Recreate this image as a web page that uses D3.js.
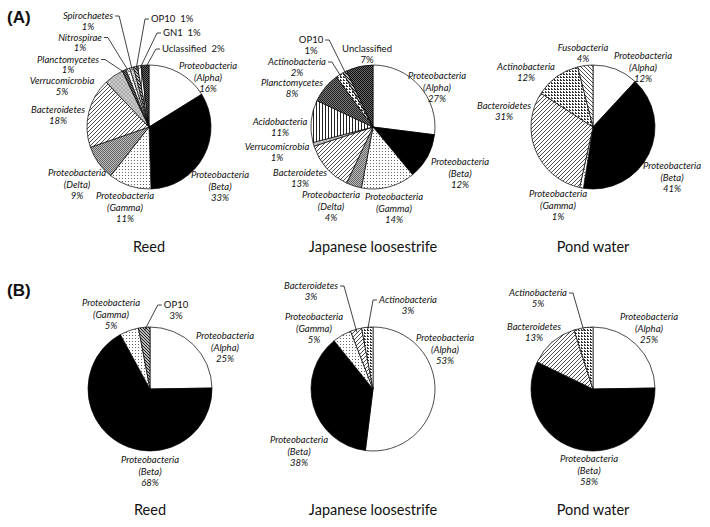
<!DOCTYPE html>
<html>
<head>
<meta charset="utf-8">
<script src="https://cdn.jsdelivr.net/npm/d3@7"></script>
<style>
  body { margin: 0; background: #fff; }
  svg text { font-family: Lato, "Open Sans", sans-serif; fill: #111; }
</style>
</head>
<body>
<div id="chart"></div>
<script>
// ---- data (percent of clones) ----
const panelA_reed_taxa = ['Proteobacteria (Alpha)', 'Proteobacteria (Beta)', 'Proteobacteria (Gamma)', 'Proteobacteria (Delta)',
  'Bacteroidetes', 'Verrucomicrobia', 'Planctomycetes', 'Nitrospirae', 'Spirochaetes', 'OP10', 'GN1', 'Uclassified']
const panelA_reed_pct = [16, 33, 11, 9, 18, 5, 1, 1, 1, 1, 1, 2]

const panelA_loose_taxa = ['Proteobacteria (Alpha)', 'Proteobacteria (Beta)', 'Proteobacteria (Gamma)', 'Proteobacteria (Delta)',
  'Bacteroidetes', 'Verrucomicrobia', 'Acidobacteria', 'Planctomycetes', 'Actinobacteria', 'OP10', 'Unclassified']
const panelA_loose_pct = [27, 12, 14, 4, 13, 1, 11, 8, 2, 1, 7]

const panelA_pond_taxa = ['Proteobacteria (Alpha)', 'Proteobacteria (Beta)', 'Proteobacteria (Gamma)',
  'Bacteroidetes', 'Actinobacteria', 'Fusobacteria']
const panelA_pond_pct = [12, 41, 1, 31, 12, 4]

const panelB_reed_taxa = ['Proteobacteria (Alpha)', 'Proteobacteria (Beta)', 'Proteobacteria (Gamma)', 'OP10']
const panelB_reed_pct = [25, 68, 5, 3]

const panelB_loose_taxa = ['Proteobacteria (Alpha)', 'Proteobacteria (Beta)', 'Proteobacteria (Gamma)', 'Bacteroidetes', 'Actinobacteria']
const panelB_loose_pct = [53, 38, 5, 3, 3]

const panelB_pond_taxa = ['Proteobacteria (Alpha)', 'Proteobacteria (Beta)', 'Bacteroidetes', 'Actinobacteria']
const panelB_pond_pct = [25, 58, 13, 5]

const sampleNames = ['Reed', 'Japanese loosestrife', 'Pond water']
const panelNames = ['(A)', '(B)']

// ---- label layout: [dx, dy, anchor, leader side] relative to pie centre ----
const layout = {
  aReed: [[59, -61], [71, 48], [-24, 69], [-72, 46], [-91, -17], [-87, -46],
    [-81, -67.5, 'middle', 'r'], [-69, -89.5, 'middle', 'r'], [-61, -111, 'middle', 'r'],
    [2, -108, 'start', 'l'], [14, -94, 'start', 'l'], [13, -78, 'start', 'l']],
  aLoose: [[64, -51], [87, 35], [21, 70], [-42, 68], [-73, 46], [-96, 20], [-93, -5], [-81, -44],
    [-76, -65, 'middle', 'r'], [-62, -87, 'middle', 'r'], [-6, -78]],
  aPond: [[50, -71], [79, 39], [-35, 67], [-89, -21], [-67, -60], [-10, -79]],
  bReed: [[75, -53], [0, 71], [-39, -86], [26, -84, 'middle', 'l']],
  bLoose: [[72, -51], [-74, 51], [-59, -72], [-62, -103, 'middle', 'r'], [35, -89, 'middle', 'l']],
  bPond: [[56, -72], [-4, 70], [-59, -62], [-55, -96, 'middle', 'r']]
}

const plainText = new Set(['OP10', 'GN1', 'Uclassified', 'Unclassified'])

const width = 710
const height = 527
const radius = 62
const lineH = 11.3
const lineH2 = 10.4 // two-line labels sit closer

const svg = d3.select('#chart').append('svg')
  .attr('width', width)
  .attr('height', height)

// ---- fill patterns ----
const defs = svg.append('defs')
function pat (id, size, build, bg) {
  let p = defs.append('pattern')
    .attr('id', id)
    .attr('patternUnits', 'userSpaceOnUse')
    .attr('width', size)
    .attr('height', size)
  p.append('rect').attr('width', size).attr('height', size).attr('fill', bg || '#fff')
  build(p)
}
function dots (p, pts, s, c) {
  pts.forEach(([x, y]) => p.append('rect').attr('x', x).attr('y', y).attr('width', s).attr('height', s).attr('fill', c))
}
pat('p-gamma', 3, (p) => dots(p, [[0, 0]], 1, '#666'))
pat('p-delta', 2, (p) => dots(p, [[0, 0], [1, 1]], 1, '#666'), '#bbb')
pat('p-bact', 4, (p) => p.append('path').attr('d', 'M-1,5L5,-1M-1,1L1,-1M3,5L5,3').attr('stroke', '#222').attr('stroke-width', 0.8))
pat('p-verruco', 4, (p) => dots(p, [[0, 0], [2, 2]], 2, '#aaa'), '#ccc')
pat('p-acido', 3, (p) => p.append('rect').attr('x', 0).attr('width', 1).attr('height', 3).attr('fill', '#222'))
pat('p-plancto', 2, (p) => dots(p, [[0, 0], [1, 1]], 1, '#222'), '#777')
pat('p-actino', 3, (p) => dots(p, [[0, 0], [1, 1], [0, 1]], 1, '#333'))
pat('p-uncl', 2, (p) => dots(p, [[0, 0], [1, 1]], 1, '#111'), '#666')
pat('p-op10', 3, (p) => p.append('path').attr('d', 'M-1,-1L4,4M-1,2L1,4M2,-1L4,1').attr('stroke', '#111').attr('stroke-width', 1.1))
pat('p-fuso', 4, (p) => p.append('path').attr('d', 'M-1,-1L5,5M-1,3L1,5M3,-1L5,1').attr('stroke', '#222').attr('stroke-width', 0.8))
pat('p-nitro', 3, (p) => dots(p, [[1, 1]], 1, '#888'))
pat('p-spiro', 2, (p) => dots(p, [[0, 0]], 1, '#999'), '#ddd')
pat('p-gn1', 3, (p) => p.append('rect').attr('x', 1).attr('width', 1).attr('height', 3).attr('fill', '#666'))

const fills = {
  'Proteobacteria (Alpha)': '#fff',
  'Proteobacteria (Beta)': '#000',
  'Proteobacteria (Gamma)': 'url(#p-gamma)',
  'Proteobacteria (Delta)': 'url(#p-delta)',
  'Bacteroidetes': 'url(#p-bact)',
  'Verrucomicrobia': 'url(#p-verruco)',
  'Acidobacteria': 'url(#p-acido)',
  'Planctomycetes': 'url(#p-plancto)',
  'Actinobacteria': 'url(#p-actino)',
  'Unclassified': 'url(#p-uncl)',
  'Uclassified': 'url(#p-uncl)',
  'OP10': 'url(#p-op10)',
  'Fusobacteria': 'url(#p-fuso)',
  'Nitrospirae': 'url(#p-nitro)',
  'Spirochaetes': 'url(#p-spiro)',
  'GN1': 'url(#p-gn1)'
}

const pie = d3.pie().sort(null).value((d) => d.v)
const arc = d3.arc().innerRadius(0).outerRadius(radius)

function labelLines (name, v, anchor) {
  if (anchor === 'start') return [name + '\u00a0\u00a0' + v + '%']
  let m = name.match(/^(Proteobacteria) (\(.*\))$/)
  if (m) return [m[1], m[2], v + '%']
  return [name, v + '%']
}

function drawPie (cx, cy, taxa, pct, lay, title, titleY) {
  let data = taxa.map((t, i) => ({ t: t, v: pct[i] }))
  let g = svg.append('g').attr('transform', `translate(${cx},${cy})`)

  let slices = pie(data)
  g.selectAll('path.slice')
    .data(slices)
    .enter()
    .append('path')
    .attr('class', 'slice')
    .attr('d', arc)
    .attr('fill', (d) => fills[d.data.t])
    .attr('stroke', '#000')
    .attr('stroke-width', 0.7)
    .attr('stroke-linejoin', 'round')

  // labels
  slices.forEach((s, i) => {
    let [dx, dy, anchor, leader] = lay[i]
    anchor = anchor || 'middle'
    let lines = labelLines(s.data.t, s.data.v, anchor)
    let lh = lines.length === 2 ? lineH2 : lineH
    let txt = g.append('text')
      .attr('text-anchor', anchor)
      .style('font-size', '9.5px')
      .style('font-style', plainText.has(s.data.t) ? 'normal' : 'italic')
    lines.forEach((l, k) => {
      txt.append('tspan').attr('x', dx).attr('y', dy + 3.4 + k * lh).text(l)
    })
    if (leader) {
      let w = txt.select('tspan').node().getComputedTextLength()
      let x0
      if (anchor === 'start') x0 = leader === 'l' ? dx - 2 : dx + w + 2
      else x0 = leader === 'l' ? dx - w / 2 - 2 : dx + w / 2 + 2
      let x1 = x0 + (leader === 'l' ? -4 : 4)
      let a = (s.startAngle + s.endAngle) / 2
      let rr = radius * 0.95
      g.append('path')
        .attr('d', `M${x0},${dy}H${x1}L${Math.sin(a) * rr},${-Math.cos(a) * rr}`)
        .attr('fill', 'none')
        .attr('stroke', '#111')
        .attr('stroke-width', 0.8)
    }
  })

  svg.append('text')
    .attr('x', cx)
    .attr('y', titleY)
    .attr('text-anchor', 'middle')
    .style('font-size', '14.5px')
    .text(title)
}

const cxs = [149, 373, 593]
drawPie(cxs[0], 127, panelA_reed_taxa, panelA_reed_pct, layout.aReed, sampleNames[0], 252)
drawPie(cxs[1], 127, panelA_loose_taxa, panelA_loose_pct, layout.aLoose, sampleNames[1], 252)
drawPie(cxs[2], 127, panelA_pond_taxa, panelA_pond_pct, layout.aPond, sampleNames[2], 252)
drawPie(150, 389, panelB_reed_taxa, panelB_reed_pct, layout.bReed, sampleNames[0], 515)
drawPie(cxs[1], 389, panelB_loose_taxa, panelB_loose_pct, layout.bLoose, sampleNames[1], 515)
drawPie(cxs[2], 389, panelB_pond_taxa, panelB_pond_pct, layout.bPond, sampleNames[2], 515)

// panel letters
svg.selectAll('text.panel')
  .data(panelNames)
  .enter()
  .append('text')
  .attr('class', 'panel')
  .attr('x', 7)
  .attr('y', (d, i) => i === 0 ? 23 : 296)
  .style('font-family', '"Liberation Sans", Arial, sans-serif')
  .style('font-weight', 'bold')
  .style('font-size', '17px')
  .text((d) => d)
</script>
</body>
</html>
